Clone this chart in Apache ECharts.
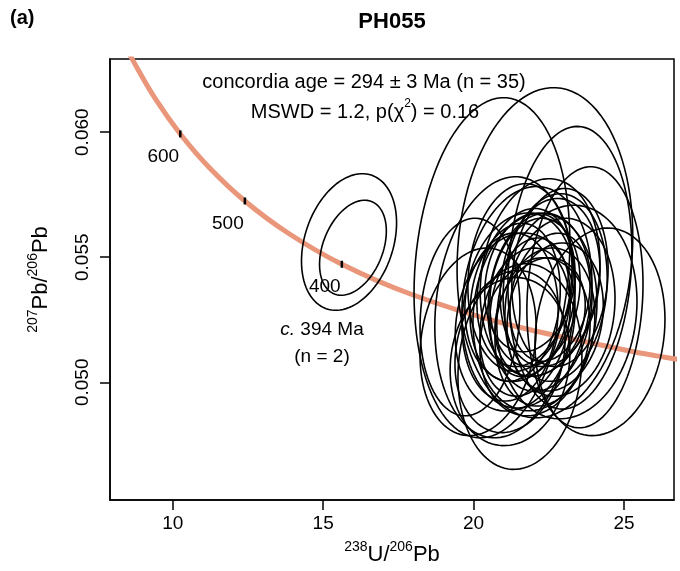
<!DOCTYPE html>
<html><head><meta charset="utf-8">
<script src="https://cdn.jsdelivr.net/npm/echarts@6/dist/echarts.min.js"></script>
<style>html,body{margin:0;padding:0;background:#fff}#c{width:680px;height:571px}</style>
</head><body><div id="c"></div>
<script>
// Concordia curve points (age in Ma, 238U/206Pb, 207Pb/206Pb)
const concAges = [720, 700, 650, 600, 550, 500, 450, 400, 350, 300, 250, 240, 230];
const concX = [8.463, 8.718, 9.426, 10.252, 11.228, 12.399, 13.831, 15.621, 17.923, 20.992, 25.289, 26.363, 27.531];
const concY = [0.06338, 0.06278, 0.06133, 0.05993, 0.05857, 0.05725, 0.05597, 0.05472, 0.05352, 0.05236, 0.05123, 0.05100, 0.05079];
// Labelled age marks on concordia
const markAges = [600, 500, 400];
// Older group ellipses (c. 394 Ma, n = 2): x, y, half-x, half-y, rho
const oldX = [15.86, 15.99];
const oldY = [0.05561, 0.05538];
const oldSX = [1.58, 1.11];
const oldSY = [0.00273, 0.00190];
const oldRho = [0.28, 0.35];
// Main population ellipses (n = 35)
const mainX = [20.61, 22.37, 23.20, 21.04, 23.70, 21.77, 23.10, 24.20, 21.54, 21.21, 21.21, 20.15, 19.88,
  21.71, 22.04, 22.21, 21.87, 22.54, 21.38, 22.87, 22.71, 21.54, 22.21, 21.71, 22.37, 21.21, 22.04, 22.54, 21.87, 22.71, 21.38, 22.04, 21.54, 22.87, 22.21];
const mainY = [0.05458, 0.05518, 0.05458, 0.05300, 0.05340, 0.05340, 0.05281, 0.05202, 0.05063, 0.05123, 0.05083, 0.05162, 0.05261,
  0.05379, 0.05360, 0.05320, 0.05300, 0.05399, 0.05320, 0.05300, 0.05261, 0.05419, 0.05419, 0.05241, 0.05221, 0.05261, 0.05182, 0.05340, 0.05399, 0.05379, 0.05241, 0.05281, 0.05340, 0.05419, 0.05261];
const mainSX = [2.59, 2.92, 2.06, 2.33, 1.93, 2.16, 2.33, 2.16, 2.06, 1.83, 1.99, 1.93, 1.66,
  1.60, 1.50, 1.73, 1.33, 1.66, 1.50, 1.83, 1.60, 1.73, 1.99, 1.50, 1.66, 1.60, 1.83, 1.33, 1.50, 1.73, 1.99, 2.06, 1.83, 1.60, 1.50];
const mainSY = [0.00680, 0.00660, 0.00565, 0.00522, 0.00522, 0.00443, 0.00427, 0.00415, 0.00411, 0.00324, 0.00336, 0.00375, 0.00395,
  0.00316, 0.00296, 0.00356, 0.00277, 0.00336, 0.00316, 0.00356, 0.00296, 0.00375, 0.00395, 0.00296, 0.00316, 0.00336, 0.00316, 0.00256, 0.00277, 0.00375, 0.00356, 0.00395, 0.00337, 0.00356, 0.00237];
const mainRho = [0.15, 0.10, 0.12, 0.15, 0.10, 0.15, 0.10, 0.12, 0.10, 0.15, 0.10, 0.15, 0.10,
  0.20, 0.15, 0.10, 0.20, 0.15, 0.15, 0.10, 0.15, 0.10, 0.15, 0.20, 0.15, 0.10, 0.15, 0.20, 0.15, 0.10, 0.15, 0.10, 0.15, 0.10, 0.20];
// Axis tick values
const xTicks = [10, 15, 20, 25];
const yTicks = [0.050, 0.055, 0.060];

const FONT = '"Liberation Sans", Arial, sans-serif';

const concData = concX.map((x, i) => [x, concY[i]]);
const markData = markAges.map(a => { const i = concAges.indexOf(a); return { value: [concX[i], concY[i]], age: a }; });
const ellData = [];
oldX.forEach((x, i) => ellData.push([x, oldY[i], oldSX[i], oldSY[i], oldRho[i]]));
mainX.forEach((x, i) => ellData.push([x, mainY[i], mainSX[i], mainSY[i], mainRho[i]]));

function renderEllipse(params, api) {
  const cx = api.value(0), cy = api.value(1), sx = api.value(2), sy = api.value(3), r = api.value(4);
  const q = Math.sqrt(1 - r * r);
  const pts = [];
  for (let k = 0; k <= 100; k++) {
    const t = 2 * Math.PI * k / 100;
    pts.push(api.coord([cx + sx * Math.cos(t), cy + sy * (r * Math.cos(t) + q * Math.sin(t))]));
  }
  return { type: 'polygon', shape: { points: pts }, style: { fill: 'none', stroke: '#000', lineWidth: 1.6 } };
}

const chart = echarts.init(document.getElementById('c'));
chart.setOption({
  animation: false,
  backgroundColor: '#fff',
  grid: { left: 110, right: 6, top: 59, bottom: 66, show: true, borderColor: '#000', borderWidth: 1.5, backgroundColor: 'transparent' },
  xAxis: {
    type: 'value', min: 7.916, max: 26.66,
    splitLine: { show: false },
    axisLine: { show: true, onZero: false, lineStyle: { color: '#000', width: 1.5 } },
    axisTick: { show: true, customValues: xTicks, length: 10, lineStyle: { color: '#000', width: 1.5 } },
    axisLabel: { customValues: xTicks, margin: 14, fontSize: 19, color: '#000', fontFamily: FONT },
    name: '{sup|238}{b|U/}{sup|206}{b|Pb}', nameLocation: 'middle', nameGap: 40,
    nameTextStyle: { fontFamily: FONT, color: '#000', rich: {
      b: { fontSize: 22, fontFamily: FONT, color: '#000', lineHeight: 26, verticalAlign: 'bottom' },
      sup: { fontSize: 14, fontFamily: FONT, color: '#000', lineHeight: 26, verticalAlign: 'top', padding: [0, 0, 10, 0] } } }
  },
  yAxis: {
    type: 'value', min: 0.045296, max: 0.062925,
    splitLine: { show: false },
    axisLine: { show: true, onZero: false, lineStyle: { color: '#000', width: 1.5 } },
    axisTick: { show: true, customValues: yTicks, length: 10, lineStyle: { color: '#000', width: 1.5 } },
    axisLabel: { customValues: yTicks, rotate: 90, margin: 18, fontSize: 19, color: '#000', fontFamily: FONT,
      formatter: v => v.toFixed(3) },
    name: '{sup|207}{b|Pb/}{sup|206}{b|Pb}', nameLocation: 'middle', nameGap: 58, nameRotate: 90,
    nameTextStyle: { fontFamily: FONT, color: '#000', rich: {
      b: { fontSize: 22, fontFamily: FONT, color: '#000', lineHeight: 26, verticalAlign: 'bottom' },
      sup: { fontSize: 14, fontFamily: FONT, color: '#000', lineHeight: 26, verticalAlign: 'top', padding: [0, 0, 10, 0] } } }
  },
  series: [
    { type: 'line', data: concData, smooth: 0.4, showSymbol: false, clip: true, z: 1,
      lineStyle: { color: '#E9967A', width: 5 } },
    { type: 'custom', data: ellData, renderItem: renderEllipse, clip: true, z: 3,
      dimensions: ['x', 'y', 'sx', 'sy', 'rho'], encode: { x: 0, y: 1 } },
    { type: 'scatter', data: markData, symbol: 'rect', symbolSize: [2.5, 7], z: 4,
      itemStyle: { color: '#000', opacity: 1 },
      label: { show: true, position: 'inside', offset: [-17, 23], formatter: p => String(p.data.age),
        fontSize: 19, color: '#000', opacity: 1, textBorderWidth: 0, fontFamily: FONT } }
  ],
  graphic: [
    { type: 'text', left: 10, top: 8, style: { text: '(a)', fontSize: 20, fontWeight: 'bold', fill: '#000', fontFamily: FONT } },
    { type: 'text', x: 392, y: 22, style: { text: 'PH055', fontSize: 22, fontWeight: 'bold', fill: '#000', fontFamily: FONT, align: 'center', verticalAlign: 'middle' } },
    { type: 'text', x: 364, y: 82, style: { text: 'concordia age = 294 ± 3 Ma (n = 35)', fontSize: 20, fill: '#000', fontFamily: FONT, align: 'center', verticalAlign: 'middle' } },
    { type: 'text', x: 365, y: 110, style: { text: '{n|MSWD = 1.2, p(χ}{s|2}{n|) = 0.16}', align: 'center', verticalAlign: 'middle',
      rich: { n: { fontSize: 20, fontFamily: FONT, fill: '#000', lineHeight: 24, verticalAlign: 'bottom' },
              s: { fontSize: 12, fontFamily: FONT, fill: '#000', lineHeight: 24, verticalAlign: 'top' } } } },
    { type: 'text', x: 322, y: 330, style: { text: '{i|c.}{n| 394 Ma}', align: 'center', verticalAlign: 'middle',
      rich: { i: { fontSize: 19, fontStyle: 'italic', fontFamily: FONT, fill: '#000' }, n: { fontSize: 19, fontFamily: FONT, fill: '#000' } } } },
    { type: 'text', x: 322, y: 357, style: { text: '(n = 2)', fontSize: 19, fill: '#000', fontFamily: FONT, align: 'center', verticalAlign: 'middle' } }
  ]
});
</script></body></html>
